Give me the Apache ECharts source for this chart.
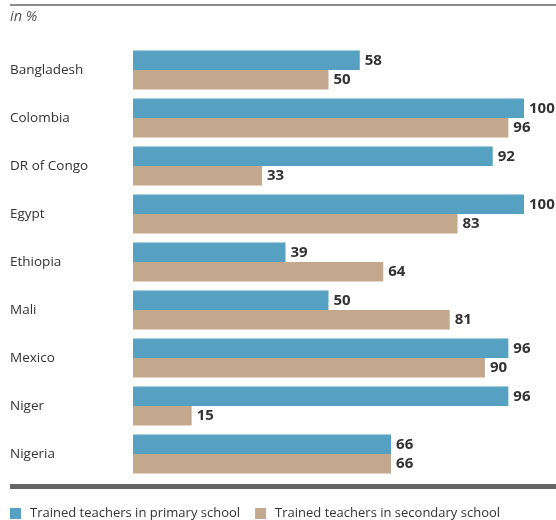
<!DOCTYPE html>
<html>
<head>
<meta charset="utf-8">
<script src="https://cdn.jsdelivr.net/npm/echarts@6/dist/echarts.min.js"></script>
<style>
  html, body { margin: 0; padding: 0; background: #fff; }
  #chart { width: 556px; height: 520px; }
</style>
</head>
<body>
<div id="chart"></div>
<script>
// data
var countries = ['Bangladesh', 'Colombia', 'DR of Congo', 'Egypt', 'Ethiopia', 'Mali', 'Mexico', 'Niger', 'Nigeria']
var primary = [58, 100, 92, 100, 39, 50, 96, 96, 66]
var secondary = [50, 96, 33, 83, 64, 81, 90, 15, 66]
var seriesNames = ['Trained teachers in primary school', 'Trained teachers in secondary school']

var font = 'Open Sans'
var chart = echarts.init(document.getElementById('chart'))

var valueLabel = {
  show: true,
  position: 'right',
  distance: 5,
  color: '#333',
  fontFamily: font,
  fontWeight: 'bold',
  fontSize: 15
}

chart.setOption({
  animation: false,
  color: ['#56a1c1', '#c4a88e'],
  grid: {
    left: 133,
    right: 32,
    top: 46,
    bottom: 42
  },
  graphic: [
    // rule at the top
    { type: 'rect', shape: { x: 10, y: 4, width: 546, height: 2 }, style: { fill: '#8c8c8c' } },
    { type: 'text', left: 10, top: 9, style: { text: 'in %', font: 'italic 14.5px "Open Sans"', fill: '#555' } },
    // rule above the legend
    { type: 'rect', shape: { x: 10, y: 484, width: 546, height: 5 }, style: { fill: '#666' } }
  ],
  legend: {
    data: seriesNames,
    left: 5,
    top: 502,
    icon: 'rect',
    itemWidth: 11,
    itemHeight: 11,
    itemGap: 15,
    textStyle: { color: '#333', fontFamily: font, fontSize: 13, padding: [0, 0, 0, 4] }
  },
  xAxis: {
    type: 'value',
    min: 0,
    max: 100,
    show: false
  },
  yAxis: {
    type: 'category',
    data: countries,
    inverse: true,
    axisLine: { show: false },
    axisTick: { show: false },
    axisLabel: {
      align: 'left',
      margin: 123,
      color: '#333',
      fontFamily: font,
      fontSize: 13.5
    }
  },
  series: [
    {
      name: seriesNames[0],
      type: 'bar',
      data: primary,
      barGap: '0%',
      barCategoryGap: '19%',
      label: valueLabel
    },
    {
      name: seriesNames[1],
      type: 'bar',
      data: secondary,
      barGap: '0%',
      barCategoryGap: '19%',
      label: valueLabel
    }
  ]
})
</script>
</body>
</html>
